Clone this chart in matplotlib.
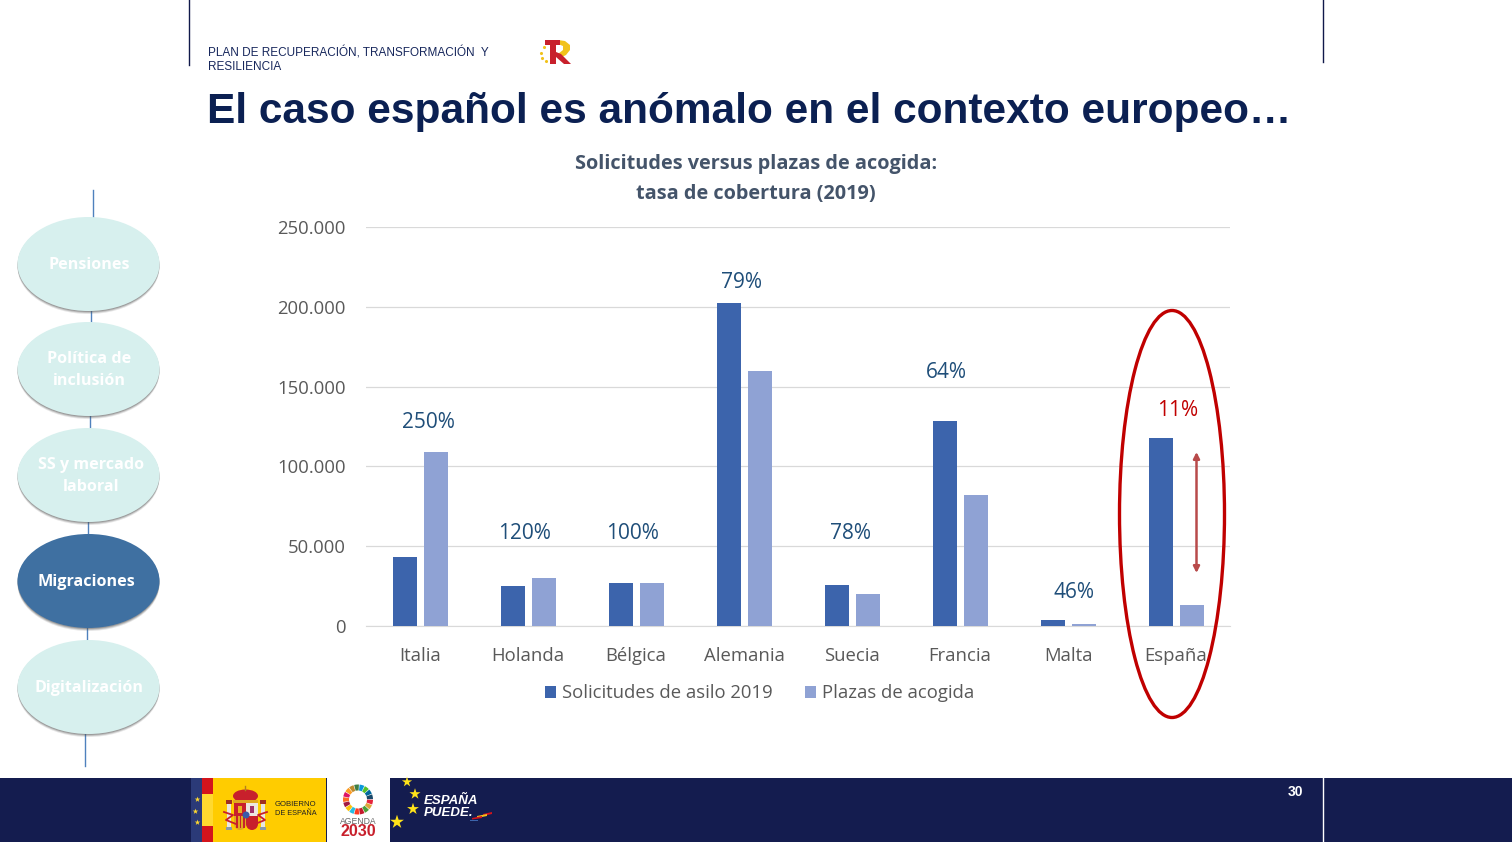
import matplotlib
matplotlib.use("Agg")
import matplotlib.pyplot as plt
import numpy as np
from matplotlib.patches import Ellipse, Rectangle, Wedge, Polygon, Circle

W, H = 1512, 842

paises = ["Italia", "Holanda", "Bélgica", "Alemania", "Suecia", "Francia", "Malta", "España"]
solicitudes = [43300, 25200, 27000, 202400, 25700, 128500, 3800, 117500]
plazas = [109000, 30200, 27000, 160000, 20000, 82000, 1300, 13000]
tasas = ["250%", "120%", "100%", "79%", "78%", "64%", "46%", "11%"]
# height of each percent label, in data units
tasa_y = [127750, 57900, 58100, 215250, 58100, 158800, 21000, 134800]
# sideways shift of each percent label, in pixels
tasa_dx = [8, -3.5, -3.5, -2.5, -1.5, -13.5, 5.5, 1.5]
y_ticks = [0, 50000, 100000, 150000, 200000, 250000]
y_labels = ["0", "50.000", "100.000", "150.000", "200.000", "250.000"]
temas = ["Pensiones", "Política de\ninclusión", "SS y mercado\nlaboral", "Migraciones", "Digitalización"]
tema_y = [264, 369, 475, 581, 687]
tema_dx = [1, 1, 2.5, -2, 1]

NAVY = "#141c4f"
BLUE1 = "#3c64ac"
BLUE2 = "#8fa2d4"
RED = "#c8202c"
plt.rcParams["font.family"] = ["Open Sans", "DejaVu Sans"]

fig = plt.figure(figsize=(W / 100, H / 100), dpi=100, facecolor="white")

# background layer in pixel coordinates, for the slide furniture
bg = fig.add_axes([0, 0, 1, 1], zorder=0)
bg.set_xlim(0, W)
bg.set_ylim(H, 0)
bg.axis("off")

# top lines and header
bg.plot([189, 189], [0, 65], color="#10194a", lw=1)
bg.plot([1323, 1323], [0, 62], color="#10194a", lw=1)
bg.text(208, 52.5, "PLAN DE RECUPERACIÓN, TRANSFORMACIÓN  Y", fontsize=8.45, family="Liberation Sans",
        color="#17275c", va="center")
bg.text(208, 66.5, "RESILIENCIA", fontsize=8.45, family="Liberation Sans", color="#17275c", va="center")
bg.text(207, 108, "El caso español es anómalo en el contexto europeo…", fontsize=30.5, weight="bold",
        family="Liberation Sans", color="#0b2052", va="center_baseline")

# TR logo
bg.add_patch(Polygon([(558, 40), (565, 41), (570, 45), (570, 50), (566, 55), (560, 58), (558, 54), (563, 50), (563, 46),
                      (558, 44)], color="#f1c21b", lw=0))
bg.add_patch(Rectangle((545, 40), 15, 5, color=RED, lw=0))
bg.add_patch(Rectangle((550, 40), 6, 24, color=RED, lw=0))
bg.add_patch(Polygon([(556, 52), (561, 54), (571, 64), (564, 64), (556, 57)], color=RED, lw=0))
bg.scatter([541, 544, 542, 546], [53, 47, 58, 61], s=5, color="#f1c21b", linewidths=0)

# side menu
for x0, y0, y1 in [(92.5, 190, 217), (91, 310, 323), (89.5, 416, 429), (88, 522, 535), (86.5, 628, 641), (85, 734, 766)]:
    bg.plot([x0, x0], [y0, y1], color="#4f81bd", lw=1, zorder=1)
for nombre, yc, dx in zip(temas, tema_y, tema_dx):
    activo = nombre == "Migraciones"
    x0 = 88.5
    for i, a in zip([4, 3, 2], [0.15, 0.25, 0.35]):
        bg.add_patch(Ellipse((x0, yc + i - 1), 142, 94, color="#555555", alpha=a, lw=0, zorder=2))
    bg.add_patch(Ellipse((x0, yc), 142, 94, color="#3f70a1" if activo else "#d7f0ee", lw=0, zorder=3))
    bg.text(x0 + dx, yc + 1, nombre, color="white", fontsize=11.6, weight="bold", ha="center", va="center",
            linespacing=1.5, zorder=4)

# footer
bg.add_patch(Rectangle((0, 778), W, 64, color=NAVY, lw=0))
bg.plot([1323, 1323], [778, 842], color="white", lw=1)
bg.text(1295, 791.5, "30", color="white", fontsize=10, weight="bold", family="Liberation Sans", ha="center", va="center")
bg.add_patch(Rectangle((191, 778), 11, 64, color="#2b3a78", lw=0))
bg.add_patch(Rectangle((202, 778), 11, 64, color="#d3141c", lw=0))
bg.add_patch(Rectangle((202, 794), 11, 32, color="#ffd92f", lw=0))
bg.add_patch(Rectangle((213, 778), 113, 64, color="#ffcc00", lw=0))
bg.add_patch(Rectangle((327, 778), 63, 64, color="white", lw=0))
bg.scatter([197, 195, 197], [799, 811, 822], marker="*", s=18, color="#ffd92f", linewidths=0)

# coat of arms, simplified
for px in [225.5, 260]:
    bg.add_patch(Rectangle((px + 1, 804), 4, 23, color="#e8e6e0", lw=0))
    bg.add_patch(Rectangle((px, 800), 6, 4, color="#a03020", lw=0))
    bg.add_patch(Rectangle((px, 827), 6, 3, color="#8a9aa8", lw=0))
bg.plot([224, 233, 226, 236], [812, 815, 820, 824], color=RED, lw=1.3)
bg.plot([267, 258, 265, 255], [812, 815, 820, 824], color=RED, lw=1.3)
bg.add_patch(Ellipse((245.5, 796), 25, 13, color=RED, lw=0))
bg.add_patch(Rectangle((233, 800), 25, 2.5, color="#e0a820", lw=0))
bg.plot([245, 245], [786, 790], color="#b08020", lw=1)
bg.add_patch(Rectangle((234, 803), 12, 13, color="#c8202c", lw=0))
bg.add_patch(Rectangle((246, 803), 12, 13, color="#ece6e0", lw=0))
bg.add_patch(Rectangle((238, 806), 4, 7, color="#e8b020", lw=0))
bg.add_patch(Rectangle((250, 806), 4, 7, color="#a0306a", lw=0))
bg.add_patch(Wedge((240, 824), 6, 0, 180, color="#e0a820", lw=0))
bg.add_patch(Rectangle((234, 816), 12, 8, color="#e0a820", lw=0))
for sx in [236, 239.5, 243]:
    bg.add_patch(Rectangle((sx, 816), 1.5, 12, color=RED, lw=0))
bg.add_patch(Wedge((252, 824), 6, 0, 180, color=RED, lw=0))
bg.add_patch(Rectangle((246, 816), 12, 8, color=RED, lw=0))
bg.add_patch(Circle((246, 815), 3.5, color="#3a5aa8", lw=0))

bg.text(275, 804.5, "GOBIERNO", fontsize=5.6, family="Liberation Sans", color="#222222", va="center")
bg.text(275, 813.5, "DE ESPAÑA", fontsize=5.3, family="Liberation Sans", color="#222222", va="center")

# agenda 2030 wheel
ods = ["#e5243b", "#dda63a", "#4c9f38", "#c5192d", "#ff3a21", "#26bde2", "#fcc30b", "#a21942", "#fd6925",
       "#dd1367", "#fd9d24", "#bf8b2e", "#3f7e44", "#0a97d9", "#56c02b", "#00689d", "#19486a"]
for i, c in enumerate(ods):
    a0 = i * 360 / 17
    bg.add_patch(Wedge((358, 799.5), 15, a0 + 1, a0 + 19.5, width=6, color=c, lw=0))
bg.text(358, 821, "AGENDA", fontsize=6.2, family="Liberation Sans", color="#666666", ha="center", va="center")
bg.text(358, 831, "2030", fontsize=11.5, weight="bold", family="Liberation Sans", color=RED, ha="center", va="center")

bg.scatter([407, 415, 413, 397], [782, 794, 809, 822], marker="*", s=[60, 70, 80, 110], color="#ffe31a", linewidths=0)
bg.text(424, 800.5, "ESPAÑA", fontsize=9.5, weight="bold", style="italic", family="Liberation Sans", color="white", va="center")
bg.text(424, 813, "PUEDE.", fontsize=9.5, weight="bold", style="italic", family="Liberation Sans", color="white", va="center")
bg.add_patch(Polygon([(483, 814), (492, 812), (492, 814), (483, 816)], color="#d3141c", lw=0))
bg.add_patch(Polygon([(477, 816), (487, 814), (487, 816), (477, 818)], color="#f1c21b", lw=0))
bg.add_patch(Polygon([(472, 818), (482, 816), (482, 818), (472, 819.5)], color="#d3141c", lw=0))
bg.add_patch(Rectangle((470, 819.5), 8, 1.5, color="#3c64ac", lw=0))

# chart
ax = fig.add_axes([366 / W, 1 - 626 / H, (1230 - 366) / W, (626 - 227) / H], zorder=2)
ax.patch.set_alpha(0)
x = np.arange(len(paises))
ax.bar(x - 0.139, solicitudes, width=0.225, color=BLUE1, label="Solicitudes de asilo 2019", zorder=3)
ax.bar(x + 0.148, plazas, width=0.225, color=BLUE2, label="Plazas de acogida", zorder=3)
ax.set_xlim(-0.5, len(paises) - 0.5)
ax.set_ylim(0, 250000)
ax.set_yticks(y_ticks)
ax.set_yticklabels(y_labels, fontsize=13.3, color="#595959")
ax.set_xticks(x)
ax.set_xticklabels(paises, fontsize=13.3, color="#595959")
ax.tick_params(axis="both", length=0)
ax.tick_params(axis="x", pad=15)
ax.tick_params(axis="y", pad=14.5)
ax.grid(axis="y", color="#d9d9d9", lw=0.9, zorder=0)
ax.set_axisbelow(True)
for s in ["top", "right", "left"]:
    ax.spines[s].set_visible(False)
ax.spines["bottom"].set_color("#d9d9d9")

for i, t in enumerate(tasas):
    col = "#c00000" if paises[i] == "España" else "#1f4e79"
    ax.text(x[i] + tasa_dx[i] / 108, tasa_y[i], t, color=col, fontsize=15, ha="center", va="center")

fig.text(756 / W, 1 - 164.5 / H, "Solicitudes versus plazas de acogida:", fontsize=14.35, weight="bold", color="#44546a",
         ha="center", va="center")
fig.text(756 / W, 1 - 193.5 / H, "tasa de cobertura (2019)", fontsize=14.35, weight="bold", color="#44546a",
         ha="center", va="center")

leg = ax.legend(loc="center", bbox_to_anchor=(759.5 / W, 1 - 693.5 / H), bbox_transform=fig.transFigure, ncol=2, frameon=False,
                fontsize=13.3, handlelength=0.62, handleheight=0.62, handletextpad=0.3, columnspacing=1.75, labelcolor="#595959")

# top layer, red ellipse and arrow over the chart
fg = fig.add_axes([0, 0, 1, 1], zorder=3)
fg.set_xlim(0, W)
fg.set_ylim(H, 0)
fg.axis("off")
fg.patch.set_alpha(0)
fg.add_patch(Ellipse((1172, 514), 105, 407, fill=False, ec="#c00000", lw=2.4))
fg.annotate("", xy=(1196.5, 452), xytext=(1196.5, 573),
            arrowprops=dict(arrowstyle="<|-|>", color="#b84a4a", lw=1.8, mutation_scale=9, shrinkA=0, shrinkB=0))

fig.savefig("out.png", dpi=100)
